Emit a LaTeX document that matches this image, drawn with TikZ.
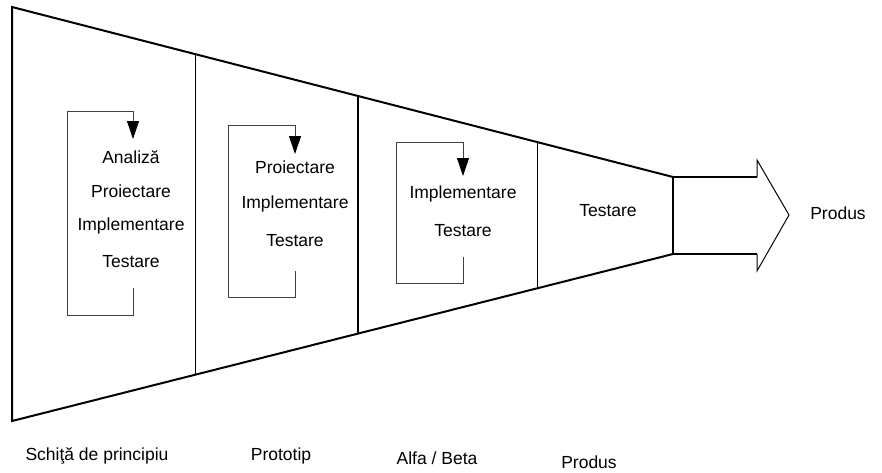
\documentclass[tikz,border=0pt]{standalone}
\usepackage{fontspec}
\setmainfont{Liberation Sans}
\usetikzlibrary{arrows.meta}
\begin{document}
\begin{tikzpicture}[x=1pt,y=-1pt,
  outline/.style={line width=2pt,line join=miter},
  divider/.style={line width=1pt},
  thickdiv/.style={line width=1.8pt},
  loopline/.style={line width=0.9pt,draw=black!75,-{Triangle[length=18pt,width=12pt,color=black,fill=black]}},
  lbl/.style={font=\fontsize{17.5}{21}\selectfont,inner sep=1pt,fill=white},
  ]
\useasboundingbox (0,0) rectangle (882,472);
\fill[white] (0,0) rectangle (882,472);
% funnel corners
\coordinate (tl) at (12,7);
\coordinate (bl) at (12,421);
\coordinate (tr) at (673,177);
\coordinate (br) at (673,254);
\coordinate (d1t) at (195,54);
\coordinate (d1b) at (195,374);
\coordinate (d2t) at (358,96);
\coordinate (d2b) at (358,334);
\coordinate (d3t) at (537,142);
\coordinate (d3b) at (537,289);
% arrow
\coordinate (as1) at (757,177);
\coordinate (ah1) at (757,160);
\coordinate (tip) at (789,215);
\coordinate (ah2) at (757,271);
\coordinate (as2) at (757,254);
\draw[outline] (tr) -- (tl) -- (bl) -- (br);
\draw[outline] (tr) -- (br);
\draw[line width=2pt] (tr) -- (as1);
\draw[line width=2pt] (br) -- (as2);
\draw[line width=1pt,line join=miter] (as1) -- (ah1) -- (tip) -- (ah2) -- (as2);
\draw[divider] (d1t) -- (d1b);
\draw[thickdiv] (d2t) -- (d2b);
\draw[divider] (d3t) -- (d3b);
% loops
\coordinate (l1a) at (133,288);
\coordinate (l1b) at (133,315);
\coordinate (l1c) at (67,315);
\coordinate (l1d) at (67,111);
\coordinate (l1e) at (133,111);
\coordinate (l1f) at (133,139);
\draw[loopline] (l1a) -- (l1b) -- (l1c) -- (l1d) -- (l1e) -- (l1f);
\coordinate (l2a) at (295,271);
\coordinate (l2b) at (295,297);
\coordinate (l2c) at (228,297);
\coordinate (l2d) at (228,125);
\coordinate (l2e) at (295,125);
\coordinate (l2f) at (295,154);
\draw[loopline] (l2a) -- (l2b) -- (l2c) -- (l2d) -- (l2e) -- (l2f);
\coordinate (l3a) at (463,257);
\coordinate (l3b) at (463,283);
\coordinate (l3c) at (396,283);
\coordinate (l3d) at (396,142);
\coordinate (l3e) at (463,142);
\coordinate (l3f) at (463,176);
\draw[loopline] (l3a) -- (l3b) -- (l3c) -- (l3d) -- (l3e) -- (l3f);
% texts
\node[lbl] (t1a) at (131,157) {Analiză};
\node[lbl] (t1b) at (131,191) {Proiectare};
\node[lbl] (t1c) at (131,226) {Implementare};
\node[lbl] (t1d) at (131,262) {Testare};
\node[lbl] (t2a) at (295,167) {Proiectare};
\node[lbl] (t2b) at (295,204) {Implementare};
\node[lbl] (t2c) at (295,241) {Testare};
\node[lbl] (t3a) at (463,194) {Implementare};
\node[lbl] (t3b) at (463,231) {Testare};
\node[lbl] (t4) at (608,211) {Testare};
\node[lbl] (out) at (838,213) {Produs};
\node[lbl] (b1) at (97,456) {Schiţă de principiu};
\node[lbl] (b2) at (281,456) {Prototip};
\node[lbl] (b3) at (437,458) {Alfa / Beta};
\node[lbl] (b4) at (589,462) {Produs};
\end{tikzpicture}
\end{document}
